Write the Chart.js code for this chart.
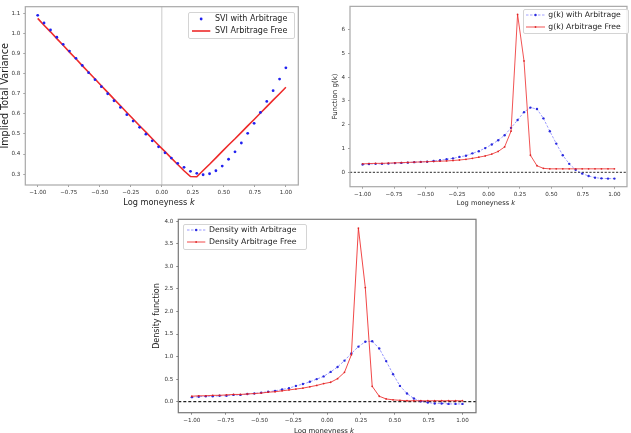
<!DOCTYPE html>
<html><head><meta charset="utf-8">
<script src="https://cdn.jsdelivr.net/npm/chart.js@4.4.1/dist/chart.umd.min.js"></script>
<style>
html,body{margin:0;padding:0;background:#fff;}
#wrap{position:relative;width:631px;height:433px;overflow:hidden;font-family:"DejaVu Sans",sans-serif;}
canvas{position:absolute;left:0;top:0;}
.t{position:absolute;white-space:nowrap;color:#222;line-height:1;transform:translate(-50%,-50%);}
.lg{position:absolute;border:1px solid #d4d4d4;border-radius:2px;background:rgba(255,255,255,0.85);box-sizing:border-box;}
.rt{position:absolute;white-space:nowrap;color:#222;line-height:1;transform:translateY(-50%);}
svg{position:absolute;overflow:visible;}
</style></head>
<body><div id="wrap">
<canvas id="c1" width="631" height="433"></canvas>
<canvas id="c2" width="631" height="433"></canvas>
<canvas id="c3" width="631" height="433"></canvas>
</div>
<script>
// ---------------- data ----------------
const K = [-1.000,-0.949,-0.897,-0.846,-0.795,-0.744,-0.692,-0.641,-0.590,-0.538,
           -0.487,-0.436,-0.385,-0.333,-0.282,-0.231,-0.179,-0.128,-0.077,-0.026,
            0.026, 0.077, 0.128, 0.179, 0.231, 0.282, 0.333, 0.385, 0.436, 0.487,
            0.538, 0.590, 0.641, 0.692, 0.744, 0.795, 0.846, 0.897, 0.949, 1.000];

const SVI_WITH_ARB = [1.090,1.052,1.017,0.981,0.946,0.912,0.876,0.841,0.805,0.770,
                      0.735,0.700,0.665,0.632,0.596,0.564,0.533,0.499,0.466,0.436,
                      0.406,0.380,0.354,0.334,0.314,0.304,0.297,0.302,0.317,0.340,
                      0.374,0.411,0.455,0.503,0.553,0.607,0.662,0.715,0.773,0.829];
const SVI_ARB_FREE = [1.075,1.041,1.008,0.974,0.941,0.907,0.874,0.840,0.807,0.773,
                      0.740,0.707,0.673,0.640,0.607,0.574,0.541,0.509,0.476,0.444,
                      0.412,0.380,0.348,0.317,0.288,0.287,0.318,0.349,0.381,0.413,
                      0.445,0.476,0.508,0.540,0.572,0.604,0.636,0.668,0.700,0.732];

const G_WITH_ARB = [0.33,0.35,0.36,0.36,0.37,0.39,0.40,0.41,0.43,0.44,
                    0.45,0.48,0.51,0.55,0.59,0.65,0.70,0.80,0.89,1.02,
                    1.17,1.35,1.56,1.87,2.20,2.53,2.72,2.66,2.27,1.73,
                    1.21,0.72,0.36,0.11,-0.05,-0.15,-0.22,-0.25,-0.26,-0.26];
const G_ARB_FREE = [0.36,0.37,0.38,0.38,0.39,0.40,0.41,0.42,0.43,0.44,
                    0.45,0.46,0.47,0.48,0.50,0.52,0.55,0.59,0.64,0.69,
                    0.77,0.88,1.07,1.73,6.63,4.68,0.72,0.28,0.17,0.15,
                    0.15,0.15,0.15,0.15,0.15,0.15,0.15,0.15,0.15,0.15];

const DENS_WITH_ARB = [0.10,0.11,0.12,0.12,0.13,0.13,0.15,0.15,0.17,0.18,
                       0.20,0.22,0.24,0.27,0.30,0.35,0.39,0.44,0.50,0.56,
                       0.66,0.77,0.91,1.07,1.22,1.33,1.34,1.18,0.90,0.61,
                       0.35,0.18,0.07,0.01,-0.02,-0.04,-0.04,-0.05,-0.05,-0.05];
const DENS_ARB_FREE = [0.12,0.13,0.13,0.14,0.14,0.15,0.16,0.16,0.17,0.18,
                       0.19,0.21,0.22,0.24,0.26,0.28,0.30,0.33,0.36,0.40,
                       0.43,0.51,0.65,1.04,3.85,2.53,0.34,0.12,0.06,0.04,
                       0.03,0.02,0.02,0.02,0.02,0.02,0.02,0.02,0.02,0.02];

const X_TICK_VALUES = [-1,-0.75,-0.5,-0.25,0,0.25,0.5,0.75,1];
const X_TICK_LABELS = ['\u22121.00','\u22120.75','\u22120.50','\u22120.25','0.00','0.25','0.50','0.75','1.00'];
const Y1_TICK_VALUES = [0.3,0.4,0.5,0.6,0.7,0.8,0.9,1.0,1.1];
const Y1_TICK_LABELS = ['0.3','0.4','0.5','0.6','0.7','0.8','0.9','1.0','1.1'];
const Y2_TICK_VALUES = [0,1,2,3,4,5,6];
const Y2_TICK_LABELS = ['0','1','2','3','4','5','6'];
const Y3_TICK_VALUES = [0,0.5,1,1.5,2,2.5,3,3.5,4];
const Y3_TICK_LABELS = ['0.0','0.5','1.0','1.5','2.0','2.5','3.0','3.5','4.0'];

const X_MIN = -1.1, X_MAX = 1.1;
const Y1_MIN = 0.246, Y1_MAX = 1.133;
const Y2_MIN = -0.60, Y2_MAX = 6.97;
const Y3_MIN = -0.245, Y3_MAX = 4.045;

// ---------------- helpers ----------------
const FONT = 'DejaVu Sans';
Chart.defaults.font.family = FONT;
const TICK_SIZE = 5.6;
const pts = (ys) => K.map((k,i)=>({x:k, y:ys[i]}));

const framePlugin = {
  id:'frame',
  afterDatasetsDraw(chart, args, o){
    const {ctx, chartArea:a} = chart;
    ctx.save(); ctx.strokeStyle = o.color; ctx.lineWidth = o.width;
    ctx.strokeRect(a.left, a.top, a.right-a.left, a.bottom-a.top);
    ctx.restore();
  }
};

function xScale(tickColor){
  return {
    type:'linear', min:X_MIN, max:X_MAX,
    afterBuildTicks: s => { s.ticks = X_TICK_VALUES.map(v=>({value:v})); },
    afterFit: s => { s.height = 16; },
    ticks:{ callback:(v,i)=>X_TICK_LABELS[i], font:{size:TICK_SIZE}, color:'#333', padding:2, maxRotation:0, autoSkip:false },
    grid:{ drawOnChartArea:false, drawTicks:true, tickLength:2, color:tickColor, lineWidth:0.8 },
    border:{display:false}
  };
}
function yScale(min,max,vals,labels,width,title,tsize,tpad,tickColor){
  return {
    type:'linear', min:min, max:max,
    afterBuildTicks: s => { s.ticks = vals.map(v=>({value:v})); },
    afterFit: s => { s.width = width; },
    ticks:{ callback:(v,i)=>labels[i], font:{size:TICK_SIZE}, color:'#333', padding:3, autoSkip:false },
    grid:{ drawOnChartArea:false, drawTicks:true, tickLength:2, color:tickColor, lineWidth:0.8 },
    border:{display:false},
    title:{ display:true, text:title, color:'#222', font:{size:tsize, lineHeight:1}, padding:{top:tpad,bottom:0} }
  };
}
const common = {
  responsive:false, animation:false, devicePixelRatio:1,
  events:[],
  plugins:{ legend:{display:false}, tooltip:{enabled:false} }
};

// ---------------- chart 1: SVI ----------------
new Chart(document.getElementById('c1'), {
  type:'scatter',
  data:{ datasets:[
    { label:'SVI with Arbitrage', data:pts(SVI_WITH_ARB), showLine:false,
      pointRadius:1.4, pointBackgroundColor:'#2020f0', pointBorderWidth:0 },
    { label:'SVI Arbitrage Free', data:pts(SVI_ARB_FREE), showLine:true, pointRadius:0,
      borderColor:'#ee2a2a', borderWidth:1.6, tension:0 },
    { label:'k=0', data:[{x:0,y:Y1_MIN},{x:0,y:Y1_MAX}], showLine:true, pointRadius:0,
      borderColor:'#cfcfcf', borderWidth:1.1 }
  ]},
  options:Object.assign({}, common, {
    layout:{ padding:{ left:0.3, top:6.7, right:332.7, bottom:232 } },
    scales:{ x:xScale('#888'), y:yScale(Y1_MIN,Y1_MAX,Y1_TICK_VALUES,Y1_TICK_LABELS,25,'Implied Total Variance',9.6,0.2,'#888') },
    plugins:Object.assign({}, common.plugins, { frame:{color:'#a8a8a8', width:1.2} })
  }),
  plugins:[framePlugin]
});

// ---------------- chart 2: g(k) ----------------
new Chart(document.getElementById('c2'), {
  type:'scatter',
  data:{ datasets:[
    { label:'g(k) Arbitrage Free', data:pts(G_ARB_FREE), showLine:true, tension:0,
      borderColor:'rgba(238,40,40,0.8)', borderWidth:1, pointRadius:0.9,
      pointBackgroundColor:'rgba(220,30,30,0.9)', pointBorderWidth:0 },
    { label:'g(k) with Arbitrage', data:pts(G_WITH_ARB), showLine:true, tension:0,
      borderColor:'rgba(40,40,255,0.55)', borderWidth:0.8, borderDash:[2.5,1.5], pointRadius:1.2,
      pointBackgroundColor:'rgba(25,25,220,0.9)', pointBorderWidth:0 },
    { label:'zero', data:[{x:X_MIN,y:0},{x:X_MAX,y:0}], showLine:true, pointRadius:0,
      borderColor:'#555', borderWidth:1.3, borderDash:[2.2,1.6] }
  ]},
  options:Object.assign({}, common, {
    layout:{ padding:{ left:330, top:5, right:0.5, bottom:230.3 } },
    scales:{ x:xScale('#888'), y:yScale(Y2_MIN,Y2_MAX,Y2_TICK_VALUES,Y2_TICK_LABELS,20,'Function g(k)',7,1.5,'#888') },
    plugins:Object.assign({}, common.plugins, { frame:{color:'#a8a8a8', width:1.2} })
  }),
  plugins:[framePlugin]
});

// ---------------- chart 3: density ----------------
new Chart(document.getElementById('c3'), {
  type:'scatter',
  data:{ datasets:[
    { label:'Density Arbitrage Free', data:pts(DENS_ARB_FREE), showLine:true, tension:0,
      borderColor:'rgba(238,40,40,0.85)', borderWidth:1, pointRadius:0.9,
      pointBackgroundColor:'rgba(220,30,30,0.9)', pointBorderWidth:0 },
    { label:'Density with Arbitrage', data:pts(DENS_WITH_ARB), showLine:true, tension:0,
      borderColor:'rgba(40,40,255,0.6)', borderWidth:0.8, borderDash:[2.5,1.5], pointRadius:1.2,
      pointBackgroundColor:'rgba(25,25,220,0.9)', pointBorderWidth:0 },
    { label:'zero', data:[{x:X_MIN,y:0},{x:X_MAX,y:0}], showLine:true, pointRadius:0,
      borderColor:'#222', borderWidth:1.2, borderDash:[3,2] }
  ]},
  options:Object.assign({}, common, {
    layout:{ padding:{ left:150.3, top:219.3, right:155, bottom:4.3 } },
    scales:{ x:xScale('#666'), y:yScale(Y3_MIN,Y3_MAX,Y3_TICK_VALUES,Y3_TICK_LABELS,28,'Density function',8,2.4,'#666') },
    plugins:Object.assign({}, common.plugins, { frame:{color:'#777', width:1.2} })
  }),
  plugins:[framePlugin]
});

// ---------------- x-axis titles & legends (HTML text) ----------------
const wrap = document.getElementById('wrap');
function addText(html, x, y, size){
  const d = document.createElement('div'); d.className='t';
  d.style.left = x+'px'; d.style.top = y+'px'; d.style.fontSize = size+'px';
  d.innerHTML = html; wrap.appendChild(d);
}
addText('Log moneyness <i>k</i>', 159, 201.7, 8.2);
addText('Log moneyness <i>k</i>', 486, 202.7, 6.7);
addText('Log moneyness <i>k</i>', 324, 430.5, 6.9);

function addLegend(box, rows, x1, x2, tx, size){
  const b = document.createElement('div'); b.className='lg';
  b.style.left=box[0]+'px'; b.style.top=box[1]+'px'; b.style.width=box[2]+'px'; b.style.height=box[3]+'px';
  wrap.appendChild(b);
  rows.forEach(r=>{
    const ns='http://www.w3.org/2000/svg';
    const s = document.createElementNS(ns,'svg');
    s.setAttribute('width', x2-x1); s.setAttribute('height', 8);
    s.style.left = x1+'px'; s.style.top = (r.y-4)+'px';
    if (r.line){
      const l = document.createElementNS(ns,'line');
      l.setAttribute('x1',0); l.setAttribute('x2',x2-x1); l.setAttribute('y1',4); l.setAttribute('y2',4);
      l.setAttribute('stroke', r.line); l.setAttribute('stroke-width', r.lw);
      if (r.dash) l.setAttribute('stroke-dasharray', r.dash);
      s.appendChild(l);
    }
    if (r.dot){
      const c = document.createElementNS(ns,'circle');
      c.setAttribute('cx',(x2-x1)/2); c.setAttribute('cy',4); c.setAttribute('r',r.dr); c.setAttribute('fill',r.dot);
      s.appendChild(c);
    }
    wrap.appendChild(s);
    const t = document.createElement('div'); t.className='rt';
    t.style.left = tx+'px'; t.style.top = r.y+'px'; t.style.fontSize = size+'px';
    t.textContent = r.text; wrap.appendChild(t);
  });
}
addLegend([188,12,107,26.5], [
  {y:18.5, text:'SVI with Arbitrage', dot:'#2020f0', dr:1.4},
  {y:30.7, text:'SVI Arbitrage Free', line:'#ee2a2a', lw:1.6}
], 191.7, 210, 215, 8);
addLegend([523,9,105.5,24.5], [
  {y:15, text:'g(k) with Arbitrage', line:'rgba(40,40,255,0.55)', lw:0.8, dash:'2.5,1.5', dot:'rgba(25,25,220,0.9)', dr:1.2},
  {y:26.7, text:'g(k) Arbitrage Free', line:'rgba(238,40,40,0.8)', lw:1, dot:'rgba(220,30,30,0.9)', dr:0.9}
], 526, 545, 548.3, 7.7);
addLegend([182.7,224,124,25.5], [
  {y:230.2, text:'Density with Arbitrage', line:'rgba(40,40,255,0.6)', lw:0.8, dash:'2.5,1.5', dot:'rgba(25,25,220,0.9)', dr:1.2},
  {y:242.4, text:'Density Arbitrage Free', line:'rgba(238,40,40,0.85)', lw:1, dot:'rgba(220,30,30,0.9)', dr:0.9}
], 186.7, 205, 209, 7.8);
</script>
</body></html>
